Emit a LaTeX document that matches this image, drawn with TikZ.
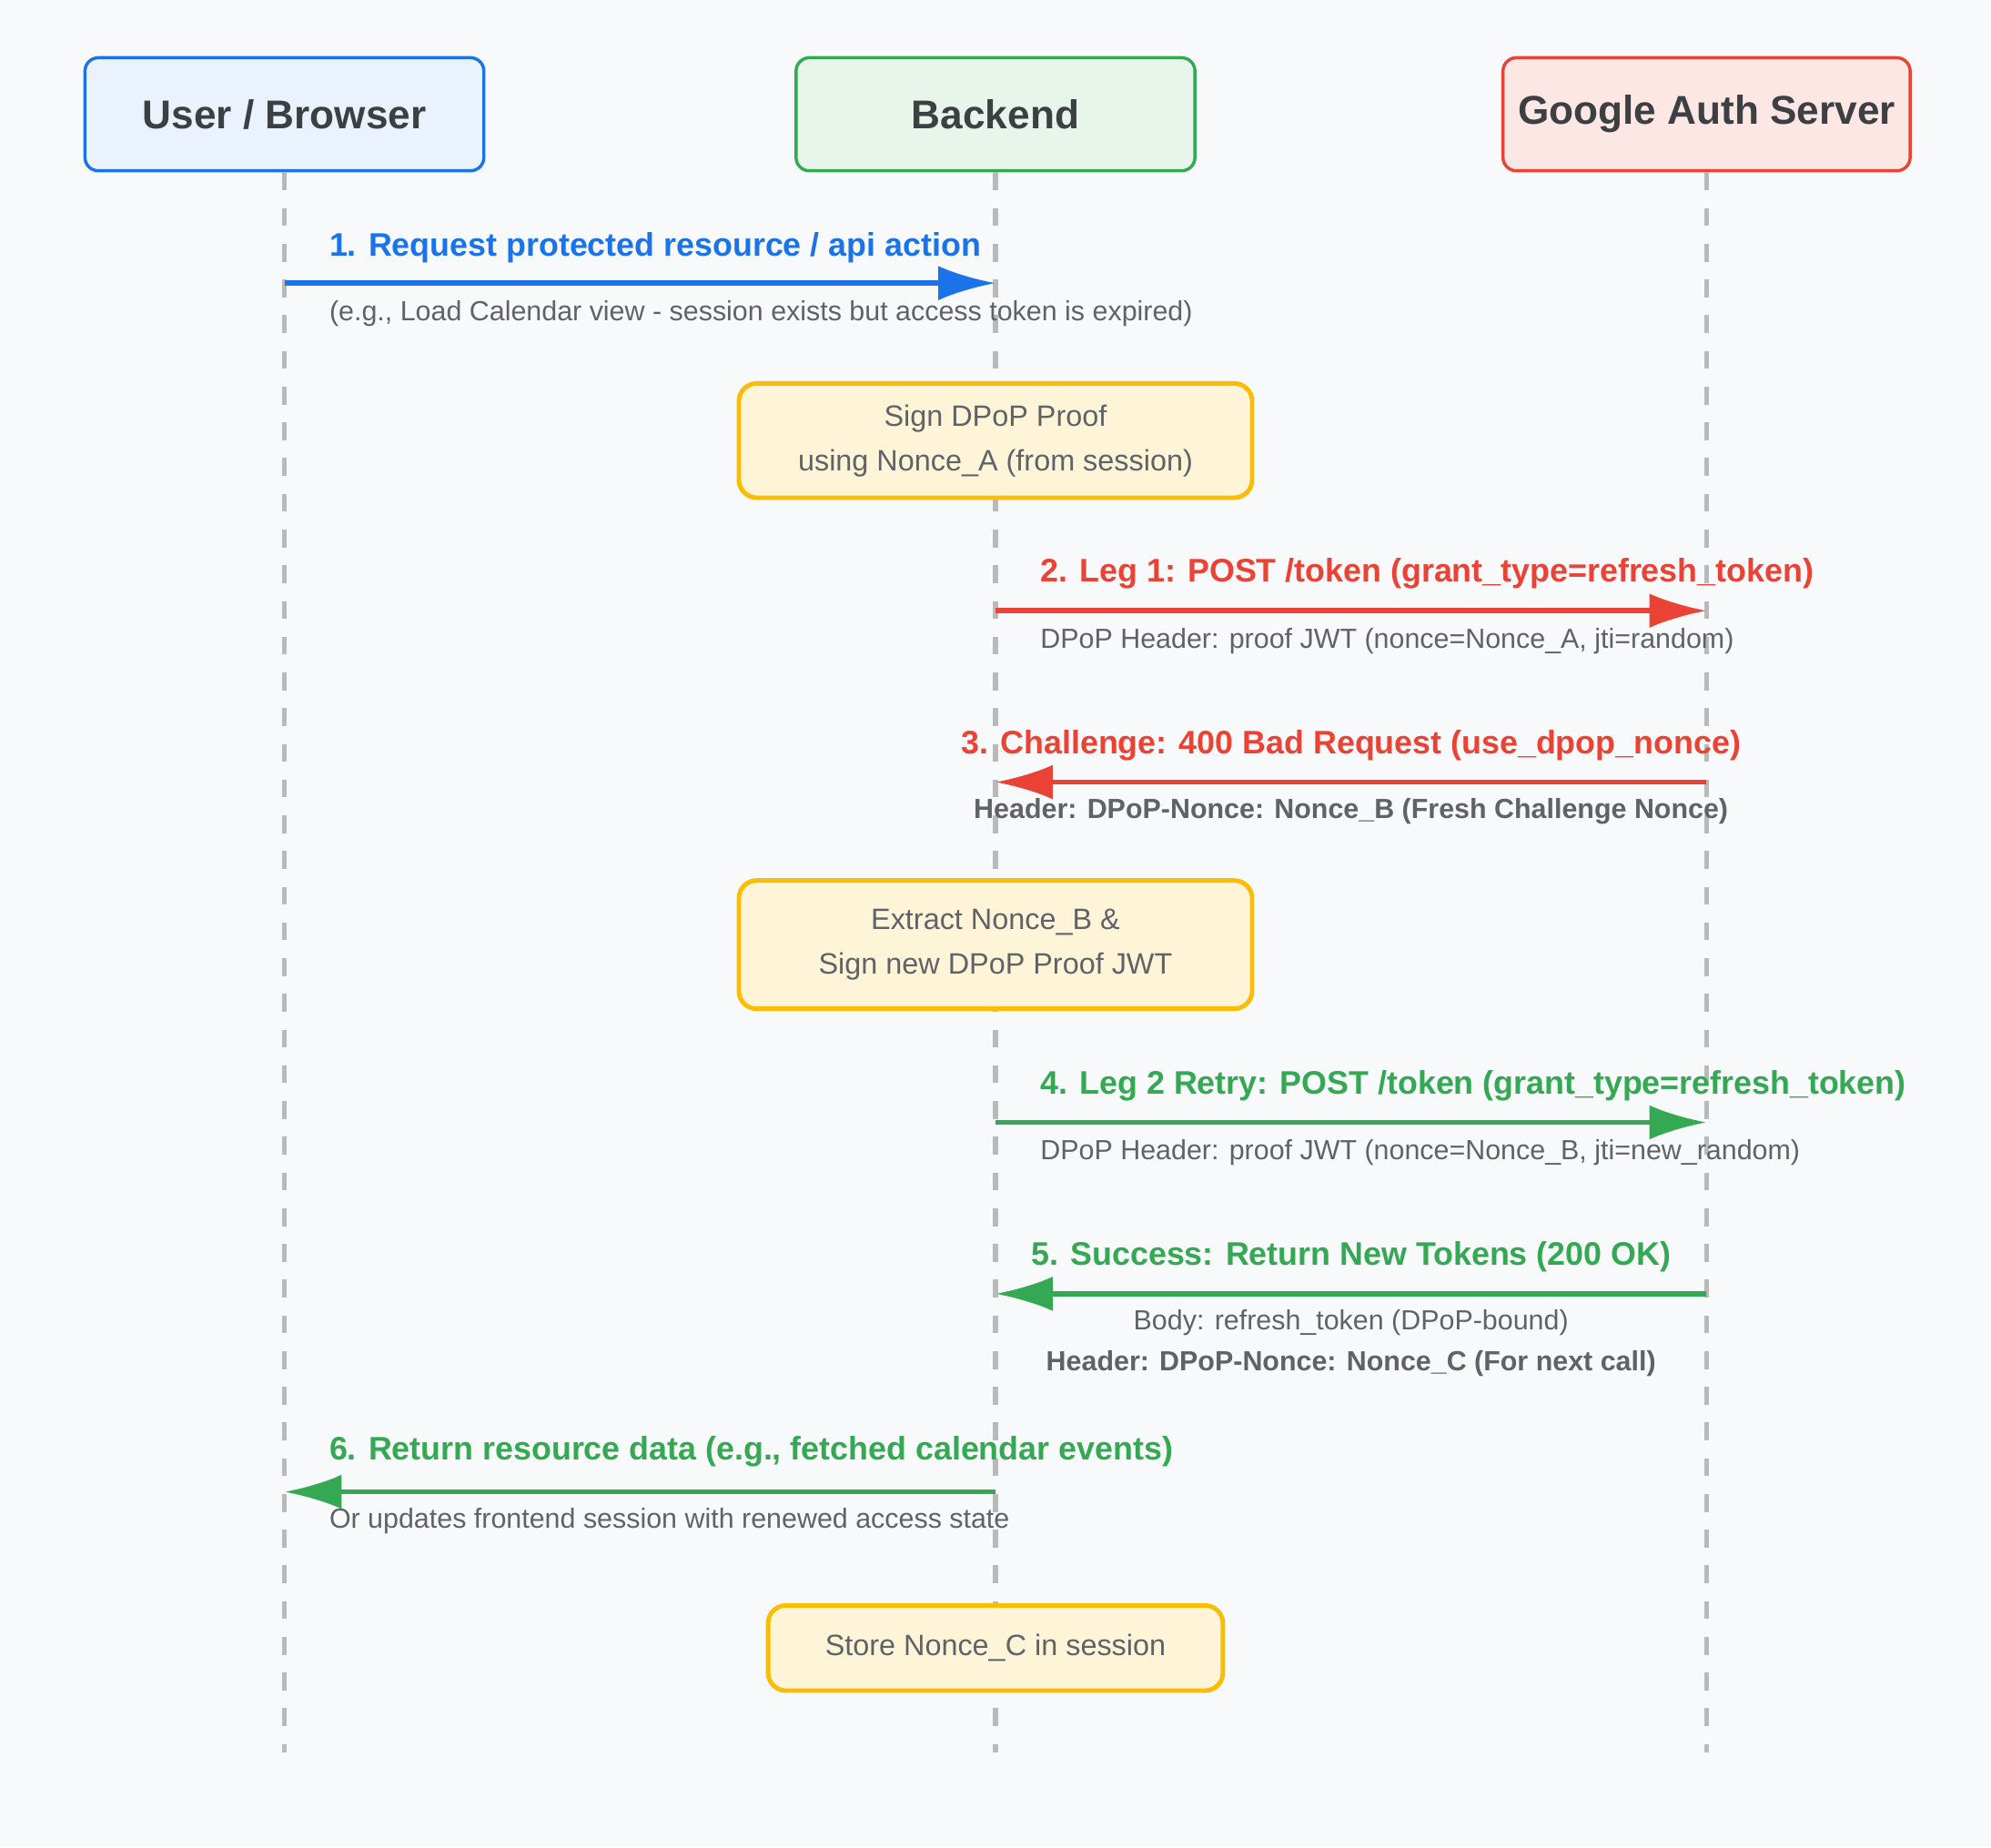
\documentclass[tikz,border=0pt]{standalone}
\usepackage{fontspec}
\setmainfont{Liberation Sans}
\usetikzlibrary{arrows.meta, positioning}
\definecolor{bg}{HTML}{F8F9FA}
\definecolor{gblue}{HTML}{1A73E8}
\definecolor{gred}{HTML}{EA4335}
\definecolor{ggreen}{HTML}{34A853}
\definecolor{gyellow}{HTML}{FBBC04}
\definecolor{ink}{HTML}{3C4043}
\definecolor{soft}{HTML}{5F6368}

\begin{document}
\begin{tikzpicture}[x=0.01cm, y=-0.01cm,
    actor/.style={rectangle, rounded corners=3pt, draw, line width=0.7pt,
                  minimum width=3.14cm, minimum height=0.89cm,
                  font=\fontsize{9}{11}\selectfont\bfseries, text=ink},
    action/.style={rectangle, rounded corners=4pt, draw=gyellow, fill=gyellow!15,
                 line width=1pt, align=center, text=soft,
                 font=\fontsize{6.6}{10}\selectfont},
    life/.style={draw=gray!55, line width=1.1pt, dash pattern=on 4pt off 4pt},
    msg/.style={line width=1.1pt, -{Latex[length=0.45cm, width=0.27cm]}},
    lbl/.style={font=\fontsize{7.3}{9}\selectfont\bfseries},
    note/.style={font=\fontsize{6.2}{8}\selectfont, text=soft}]
    \fill[bg] (0,0) rectangle (1568,1455);

    % Actors
    \node[actor, draw=gblue, fill=gblue!9] (user) at (224,90) {User / Browser};
    \node[actor, draw=ggreen, fill=ggreen!12] (backend) at (784,90) {Backend};
    \node[actor, draw=gred, fill=gred!13] (google) at (1344,90) {Google Auth Server};

    % Lifelines
    \coordinate (userEnd) at (224,1380);
    \coordinate (backendEnd) at (784,1380);
    \coordinate (googleEnd) at (1344,1380);
    \draw[life] (user) -- (userEnd);
    \draw[life] (backend) -- (backendEnd);
    \draw[life] (google) -- (googleEnd);

    % Anchors on lifelines
    \foreach \n/\y in {1/223, 2/481, 3/616, 4/884, 5/1019, 6/1175} {
        \coordinate (u\n) at (224,\y);
        \coordinate (b\n) at (784,\y);
        \coordinate (g\n) at (1344,\y);
    }

    % Notes on backend
    \node[action, minimum width=4.04cm, minimum height=0.9cm] (sign1) at (784,347)
        {Sign DPoP Proof\\using Nonce\_A (from session)};
    \node[action, minimum width=4.04cm, minimum height=1.01cm] (sign2) at (784,744)
        {Extract Nonce\_B \&\\Sign new DPoP Proof JWT};
    \node[action, minimum width=3.58cm, minimum height=0.67cm] (store) at (784,1298)
        {Store Nonce\_C in session};

    % Messages
    \draw[msg, gblue] (u1) -- (b1);
    \node[lbl, text=gblue, anchor=west] (m1) at (247,195) {1. Request protected resource / api action};
    \node[note, anchor=west] (n1) at (247,247) {(e.g., Load Calendar view - session exists but access token is expired)};

    \draw[msg, gred] (b2) -- (g2);
    \node[lbl, text=gred, anchor=west] (m2) at (807,452) {2. Leg 1: POST /token (grant\_type=refresh\_token)};
    \node[note, anchor=west] (n2) at (807,505) {DPoP Header: proof JWT (nonce=Nonce\_A, jti=random)};

    \draw[msg, gred] (g3) -- (b3);
    \node[lbl, text=gred] (m3) at (1064,587) {3. Challenge: 400 Bad Request (use\_dpop\_nonce)};
    \node[note, font=\fontsize{6.2}{8}\selectfont\bfseries] (n3) at (1064,639) {Header: DPoP-Nonce: Nonce\_B (Fresh Challenge Nonce)};

    \draw[msg, ggreen] (b4) -- (g4);
    \node[lbl, text=ggreen, anchor=west] (m4) at (807,855) {4. Leg 2 Retry: POST /token (grant\_type=refresh\_token)};
    \node[note, anchor=west] (n4) at (807,908) {DPoP Header: proof JWT (nonce=Nonce\_B, jti=new\_random)};

    \draw[msg, ggreen] (g5) -- (b5);
    \node[lbl, text=ggreen] (m5) at (1064,990) {5. Success: Return New Tokens (200 OK)};
    \node[note] (n5a) at (1064,1042) {Body: refresh\_token (DPoP-bound)};
    \node[note, font=\fontsize{6.2}{8}\selectfont\bfseries] (n5b) at (1064,1074) {Header: DPoP-Nonce: Nonce\_C (For next call)};

    \draw[msg, ggreen] (b6) -- (u6);
    \node[lbl, text=ggreen, anchor=west] (m6) at (247,1143) {6. Return resource data (e.g., fetched calendar events)};
    \node[note, anchor=west] (n6) at (247,1198) {Or updates frontend session with renewed access state};
\end{tikzpicture}
\end{document}
